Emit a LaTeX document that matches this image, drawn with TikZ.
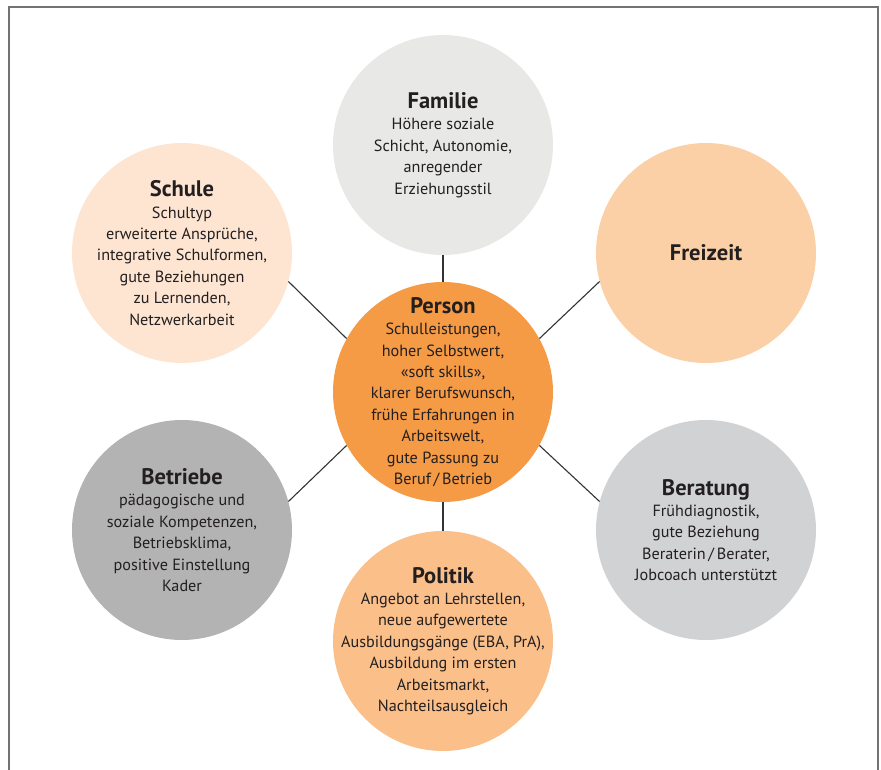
\documentclass[tikz,border=0pt]{standalone}
\usepackage{fontspec}
\setmainfont{PT Sans}
\usepackage{tikz}
\usetikzlibrary{positioning}
\usepackage{xcolor}

\definecolor{famgray}{HTML}{E8E8E7}
\definecolor{freipeach}{HTML}{FBD0A6}
\definecolor{schulpeach}{HTML}{FDE5D2}
\definecolor{persorange}{HTML}{F59A45}
\definecolor{betrgray}{HTML}{B3B3B3}
\definecolor{beragray}{HTML}{D1D2D4}
\definecolor{polipeach}{HTML}{FBBF8A}
\definecolor{inktext}{HTML}{231F20}

\tikzset{
  bubble/.style={circle, minimum size=220pt, inner sep=0pt, draw=none},
  bubbletext/.style={align=center, text=inktext, font=\fontsize{16.2}{21.4}\selectfont},
  link/.style={draw=black!80, line width=1.1pt}
}
\newcommand{\btitle}[1]{{\fontsize{22.5}{26}\selectfont\bfseries #1}\\[0pt]}

\begin{document}
\begin{tikzpicture}[x=1pt, y=-1pt]
    \useasboundingbox (0,0) rectangle (881,770);
    % frame, open at the bottom
    \draw[black!55, line width=1.8pt] (9,775) -- (9,7) -- (878,7) -- (878,775);
    % the seven bubbles
    \node[bubble, fill=famgray]    (familie)  at (443,145) {};
    \node[bubble, fill=schulpeach] (schule)   at (182,253) {};
    \node[bubble, fill=freipeach]  (freizeit) at (706,253) {};
    \node[bubble, fill=persorange] (person)   at (443,392) {};
    \node[bubble, fill=betrgray]   (betriebe) at (182,530) {};
    \node[bubble, fill=beragray]   (beratung) at (706,530) {};
    \node[bubble, fill=polipeach]  (politik)  at (443,641) {};
    % connectors to the centre
    \draw[link] (familie.south) -- (person.north);
    \draw[link] (person.south) -- (politik.north);
    \draw[link] (schule.-15) -- (person.151);
    \draw[link] (freizeit.195) -- (person.29);
    \draw[link] (betriebe.15) -- (person.209);
    \draw[link] (beratung.165) -- (person.331);
    % texts
    \node[bubbletext] (familie-txt) at (familie) {\btitle{Familie}H\"ohere soziale\\Schicht, Autonomie,\\anregender\\Erziehungsstil};
    \node[bubbletext] (schule-txt) at (schule) {\btitle{Schule}Schultyp\\erweiterte Anspr\"uche,\\integrative Schulformen,\\gute Beziehungen\\zu Lernenden,\\Netzwerkarbeit};
    \node[bubbletext, font=\fontsize{22.5}{26}\selectfont\bfseries] (freizeit-txt) at (freizeit) {Freizeit};
    \node[bubbletext] (person-txt) at (person) {\btitle{Person}Schulleistungen,\\hoher Selbstwert,\\«soft skills»,\\klarer Berufswunsch,\\fr\"uhe Erfahrungen in\\Arbeitswelt,\\gute Passung zu\\Beruf\,/\,Betrieb};
    \node[bubbletext] (betriebe-txt) at (betriebe) {\btitle{Betriebe}p\"adagogische und\\soziale Kompetenzen,\\Betriebsklima,\\positive Einstellung\\Kader};
    \node[bubbletext] (beratung-txt) at (beratung) {\btitle{Beratung}Fr\"uhdiagnostik,\\gute Beziehung\\Beraterin\,/\,Berater,\\Jobcoach unterst\"utzt};
    \node[bubbletext] (politik-txt) at (politik) {\btitle{Politik}Angebot an Lehrstellen,\\neue aufgewertete\\Ausbildungsg\"ange (EBA, PrA),\\Ausbildung im ersten\\Arbeitsmarkt,\\Nachteilsausgleich};
\end{tikzpicture}
\end{document}
